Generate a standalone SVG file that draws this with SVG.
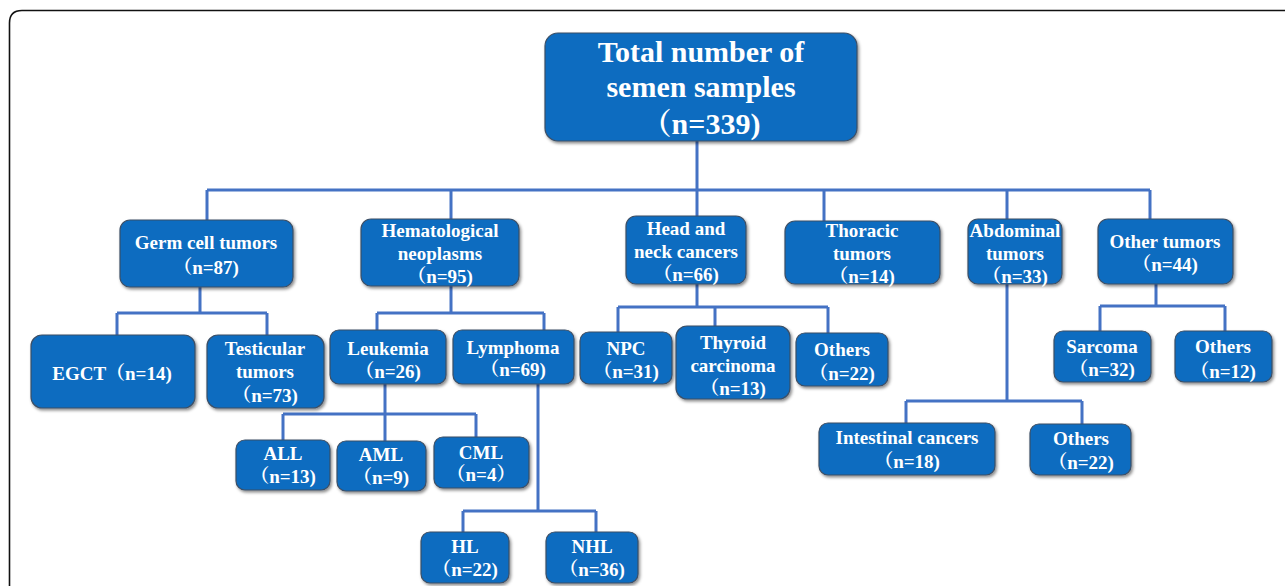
<svg xmlns="http://www.w3.org/2000/svg" width="1285" height="586" viewBox="0 0 1285 586">
<style>
.n rect{fill:#0b6cc0;stroke:#3d4f66;stroke-width:1.2;filter:url(#sh)}
.n text{fill:#fff;font-family:"Liberation Serif","Noto Serif CJK SC","Noto Sans CJK SC",serif;font-weight:bold;font-size:19px;text-anchor:middle}
.n text.big{font-size:30px}
.c path{fill:none;stroke:#4472c4;stroke-width:3}
</style>
<defs>
<filter id="sh" x="-10%" y="-10%" width="125%" height="130%">
<feDropShadow dx="1.5" dy="2" stdDeviation="1.8" flood-color="#000" flood-opacity="0.45"/>
</filter>
</defs>
<rect width="1285" height="586" fill="#fff"/>
<path d="M9.5,586 V23 Q9.5,10.5 22,10.5 H1285" fill="none" stroke="#111" stroke-width="1.6"/>
<g class="c">
<path d="M697,141 V216 M207,190 H1150 M207,190 V220 M451,190 V219 M824,190 V221 M1007,190 V219 M1150,190 V219"/>
<path d="M200,287 V313 M117,313 H267 M117,313 V335 M267,313 V335"/>
<path d="M451,286 V313 M377,313 H544 M377,313 V330 M544,313 V330"/>
<path d="M385,384 V414 M283,414 H476 M283,414 V440 M385,414 V441 M476,414 V437"/>
<path d="M538,384 V511 M463,511 H596 M463,511 V532 M596,511 V532"/>
<path d="M697,284 V307 M618,307 H828 M618,307 V332 M715,307 V326 M828,307 V333"/>
<path d="M1007,284 V401 M906,401 H1082 M906,401 V423 M1082,401 V424"/>
<path d="M1156,284 V306 M1100,306 H1225 M1100,306 V331 M1225,306 V331"/>
</g>
<g id="root" class="n"><rect x="545" y="33" width="312" height="108" rx="13"/>
<text class="big"><tspan x="701" y="62">Total number of</tspan><tspan x="701" y="97">semen samples</tspan><tspan x="701" y="134">（n=339)</tspan></text></g>
<g id="germ" class="n"><rect x="120" y="220" width="173" height="67" rx="10"/>
<text><tspan x="206" y="249">Germ cell tumors</tspan><tspan x="206" y="274">（n=87)</tspan></text></g>
<g id="hema" class="n"><rect x="361" y="219" width="158" height="67" rx="10"/>
<text><tspan x="440" y="237">Hematological</tspan><tspan x="440" y="260">neoplasms</tspan><tspan x="440" y="283">（n=95)</tspan></text></g>
<g id="head" class="n"><rect x="626" y="216" width="120" height="68" rx="10"/>
<text><tspan x="686" y="235">Head and</tspan><tspan x="686" y="258">neck cancers</tspan><tspan x="686" y="281">（n=66)</tspan></text></g>
<g id="thoracic" class="n"><rect x="785" y="221" width="155" height="63" rx="10"/>
<text><tspan x="862" y="237">Thoracic</tspan><tspan x="862" y="260">tumors</tspan><tspan x="862" y="283">（n=14)</tspan></text></g>
<g id="abdominal" class="n"><rect x="968" y="219" width="94" height="65" rx="10"/>
<text><tspan x="1015" y="237">Abdominal</tspan><tspan x="1015" y="260">tumors</tspan><tspan x="1015" y="283">（n=33)</tspan></text></g>
<g id="other" class="n"><rect x="1098" y="219" width="135" height="65" rx="10"/>
<text><tspan x="1165" y="248">Other tumors</tspan><tspan x="1165" y="271">（n=44)</tspan></text></g>
<g id="egct" class="n"><rect x="31" y="335" width="164" height="73" rx="11"/>
<text><tspan x="112" y="380">EGCT（n=14)</tspan></text></g>
<g id="testicular" class="n"><rect x="207" y="335" width="117" height="73" rx="11"/>
<text><tspan x="265" y="355">Testicular</tspan><tspan x="265" y="378">tumors</tspan><tspan x="265" y="402">（n=73)</tspan></text></g>
<g id="leukemia" class="n"><rect x="330" y="330" width="116" height="54" rx="9"/>
<text><tspan x="388" y="355">Leukemia</tspan><tspan x="388" y="378">（n=26)</tspan></text></g>
<g id="lymphoma" class="n"><rect x="453" y="330" width="121" height="54" rx="9"/>
<text><tspan x="513" y="354">Lymphoma</tspan><tspan x="513" y="376">（n=69)</tspan></text></g>
<g id="all" class="n"><rect x="236" y="440" width="94" height="50" rx="9"/>
<text><tspan x="283" y="460">ALL</tspan><tspan x="283" y="483">（n=13)</tspan></text></g>
<g id="aml" class="n"><rect x="337" y="441" width="89" height="50" rx="9"/>
<text><tspan x="381" y="461">AML</tspan><tspan x="381" y="484">（n=9)</tspan></text></g>
<g id="cml" class="n"><rect x="434" y="437" width="95" height="51" rx="9"/>
<text><tspan x="481" y="459">CML</tspan><tspan x="481" y="481">（n=4）</tspan></text></g>
<g id="hl" class="n"><rect x="421" y="532" width="88" height="51" rx="9"/>
<text><tspan x="465" y="553">HL</tspan><tspan x="465" y="576">（n=22)</tspan></text></g>
<g id="nhl" class="n"><rect x="546" y="532" width="92" height="51" rx="9"/>
<text><tspan x="592" y="553">NHL</tspan><tspan x="592" y="576">（n=36)</tspan></text></g>
<g id="npc" class="n"><rect x="580" y="332" width="92" height="52" rx="9"/>
<text><tspan x="626" y="355">NPC</tspan><tspan x="626" y="378">（n=31)</tspan></text></g>
<g id="thyroid" class="n"><rect x="676" y="326" width="114" height="73" rx="11"/>
<text><tspan x="733" y="349">Thyroid</tspan><tspan x="733" y="372">carcinoma</tspan><tspan x="733" y="395">（n=13)</tspan></text></g>
<g id="hn-others" class="n"><rect x="796" y="333" width="92" height="53" rx="9"/>
<text><tspan x="842" y="356">Others</tspan><tspan x="842" y="380">（n=22)</tspan></text></g>
<g id="intestinal" class="n"><rect x="819" y="423" width="176" height="52" rx="9"/>
<text><tspan x="907" y="444">Intestinal cancers</tspan><tspan x="907" y="468">（n=18)</tspan></text></g>
<g id="abd-others" class="n"><rect x="1030" y="424" width="101" height="51" rx="9"/>
<text><tspan x="1081" y="445">Others</tspan><tspan x="1081" y="469">（n=22)</tspan></text></g>
<g id="sarcoma" class="n"><rect x="1054" y="331" width="97" height="51" rx="9"/>
<text><tspan x="1102" y="353">Sarcoma</tspan><tspan x="1102" y="376">（n=32)</tspan></text></g>
<g id="oth-others" class="n"><rect x="1175" y="331" width="97" height="51" rx="9"/>
<text><tspan x="1223" y="353">Others</tspan><tspan x="1223" y="378">（n=12)</tspan></text></g>
</svg>
